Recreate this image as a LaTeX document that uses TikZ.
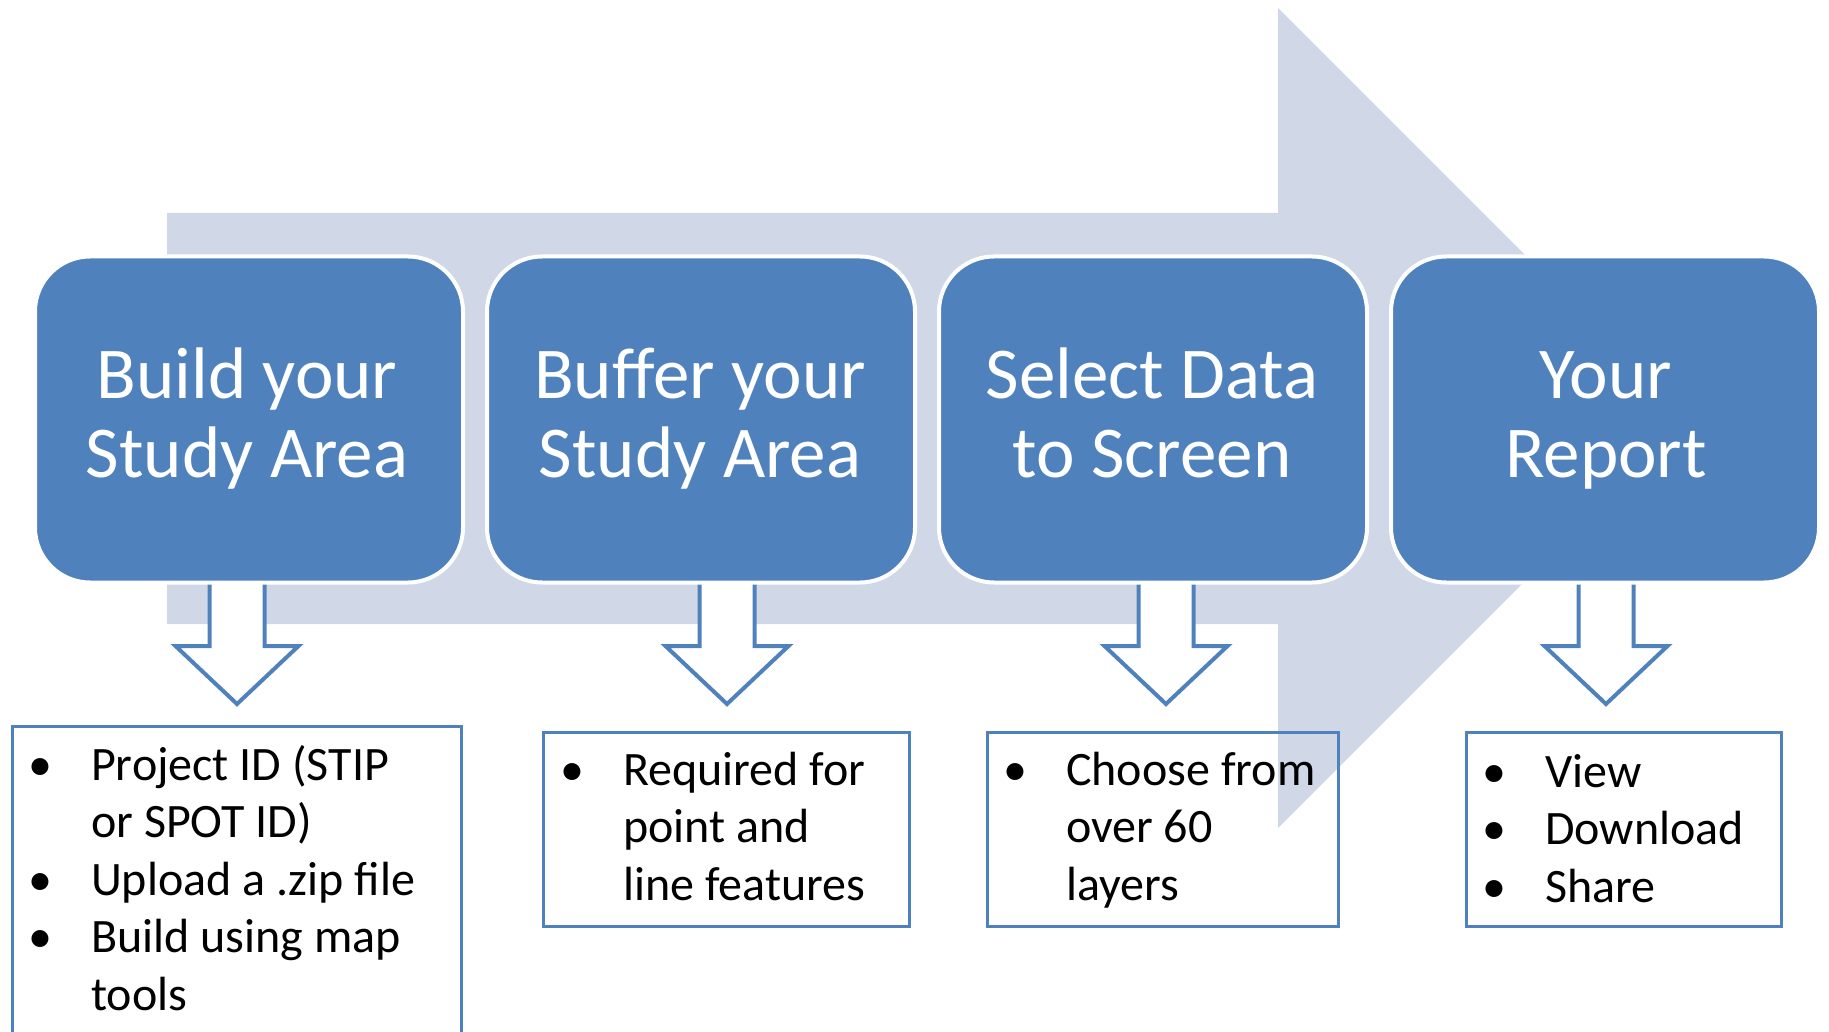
\documentclass[tikz,border=0pt]{standalone}
\usepackage{fontspec}
\setmainfont{Carlito}
\definecolor{accblue}{RGB}{79,129,189}
\definecolor{bgarrow}{RGB}{208,216,232}
\newcommand\bul{\makebox[0pt]{\textbullet}}
\begin{document}
\begin{tikzpicture}[x=1pt,y=-1pt,
  stepbox/.style={draw=white, line width=4pt, fill=accblue, rounded corners=55pt,
    minimum width=428pt, minimum height=326pt, inner sep=0pt},
  steptext/.style={text=white, font=\fontsize{73}{79.5}\selectfont, inner sep=0pt, anchor=base},
  listbox/.style={draw=accblue, line width=3pt},
  listtext/.style={font=\fontsize{48}{57.5}\selectfont, inner sep=0pt, anchor=base west},
  downarrow/.style={draw=accblue, line width=4pt, fill=white},
  bigarrow/.style={fill=bgarrow}
]
\useasboundingbox (0,0) rectangle (1829,1032);
\clip (0,0) rectangle (1829,1032);

% big background arrow
\path[bigarrow] (167,213) -- (1278,213) -- (1278,8) -- (1688,418) -- (1278,828)
  -- (1278,624) -- (167,624) -- cycle;

% down arrows
\foreach \cx/\nm in {237/a1, 727/a2, 1166/a3, 1606/a4}{
  \coordinate (\nm) at (\cx,577);
  \draw[downarrow] (\nm) ++(-27.5,0) -- ++(0,69) -- ++(-34,0) -- ++(61.5,58)
    -- ++(61.5,-58) -- ++(-34,0) -- ++(0,-69) -- cycle;
}

% step boxes
\node[stepbox] (s1) at (249,419.5) {};
\node[stepbox] (s2) at (701,419.5) {};
\node[stepbox] (s3) at (1153,419.5) {};
\node[stepbox] (s4) at (1605,419.5) {};

\node[steptext] (t1) at (247,398) {\begin{tabular}[t]{@{}c@{}}Build your\\Study Area\end{tabular}};
\node[steptext] (t2) at (700,398) {\begin{tabular}[t]{@{}c@{}}Buffer your\\Study Area\end{tabular}};
\node[steptext] (t3) at (1152,398) {\begin{tabular}[t]{@{}c@{}}Select Data\\to Screen\end{tabular}};
\node[steptext] (t4) at (1606,398) {\begin{tabular}[t]{@{}c@{}}Your\\Report\end{tabular}};

% list boxes
\draw[listbox] (12,726) rectangle (461,1045);
\draw[listbox] (543,732) rectangle (909,926);
\draw[listbox] (987,732) rectangle (1338,926);
\draw[listbox] (1466,732) rectangle (1781,926);

\node[listtext] (la) at (40,780) {\begin{tabular}[t]{@{}l@{\hspace{51pt}}l@{}}
\bul & Project ID (STIP\\
     & or SPOT ID)\\
\bul & Upload a .zip file\\
\bul & Build using map\\
     & tools
\end{tabular}};
\node[listtext] (lb) at (572,785) {\begin{tabular}[t]{@{}l@{\hspace{51pt}}l@{}}
\bul & Required for\\
     & point and\\
     & line features
\end{tabular}};
\node[listtext] (lc) at (1015,785) {\begin{tabular}[t]{@{}l@{\hspace{51pt}}l@{}}
\bul & Choose from\\
     & over 60\\
     & layers
\end{tabular}};
\node[listtext] (ld) at (1494,787) {\begin{tabular}[t]{@{}l@{\hspace{51pt}}l@{}}
\bul & View\\
\bul & Download\\
\bul & Share
\end{tabular}};
\end{tikzpicture}
\end{document}
